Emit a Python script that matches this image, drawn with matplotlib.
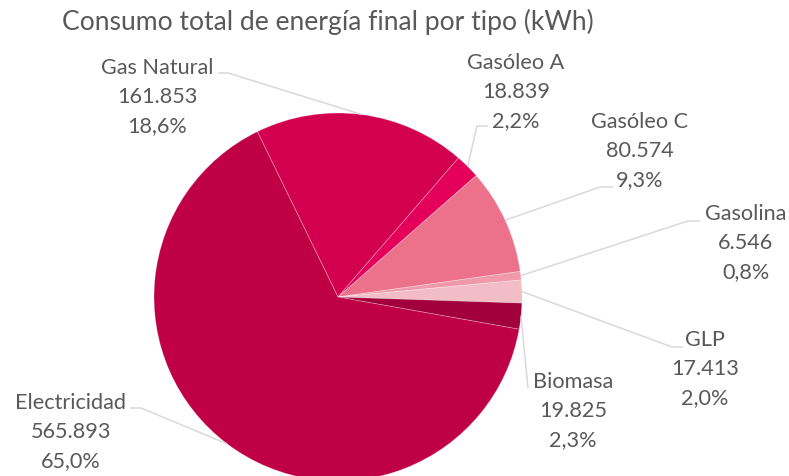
import numpy as np
import matplotlib.pyplot as plt

# datos (kWh)
fuentes = ["Gas Natural", "Gasóleo A", "Gasóleo C", "Gasolina", "GLP", "Biomasa", "Electricidad"]
consumo_kwh = [161853, 18839, 80574, 6546, 17413, 19825, 565893]
colores = ["#D30050", "#E4005A", "#EB728A", "#F099AA", "#F2BDC6", "#A2003C", "#C00045"]

titulo = "Consumo total de energía final por tipo (kWh)"

# posición de etiquetas en píxeles: centro del texto (x, y primera línea), codo y cola de la guía
etiquetas_pos = {
    "Gas Natural": ((157, 68), (228, 73), (218, 73)),
    "Gasóleo A": ((516, 63), (477, 126), (488, 126)),
    "Gasóleo C": ((640, 122), (600, 187), (613, 187)),
    "Gasolina": ((746, 214), (688, 221), (700, 221)),
    "GLP": ((705, 340), (672, 347), (683, 347)),
    "Biomasa": ((573, 382), (528, 388), (528, 388)),
    "Electricidad": ((71, 403), (141, 408), (130, 408)),
}

W, H = 789, 476
GRIS = "#595959"
FUENTE = "Lato"


def miles(v):
    return f"{v:,}".replace(",", ".")


def porcentaje(p):
    return f"{p:.1f}".replace(".", ",") + "%"


fig = plt.figure(figsize=(W / 100, H / 100), dpi=100)
ax = fig.add_axes([0, 0, 1, 1])

cx, cy, r = 338, H - 297, 184
wedges, _ = ax.pie(
    consumo_kwh,
    colors=colores,
    startangle=116,
    counterclock=False,
    center=(cx, cy),
    radius=r,
    frame=True,
    wedgeprops=dict(linewidth=0.6, edgecolor=(1, 1, 1, 0.3)),
)
ax.set_xlim(0, W)
ax.set_ylim(0, H)
ax.set_aspect("equal")
ax.axis("off")

total = sum(consumo_kwh)
for w, nombre, valor in zip(wedges, fuentes, consumo_kwh):
    (tx, ty), codo, cola = etiquetas_pos[nombre]
    ang = np.deg2rad((w.theta1 + w.theta2) / 2)
    borde = (cx + r * np.cos(ang), cy + r * np.sin(ang))
    xs = [borde[0], codo[0], cola[0]]
    ys = [borde[1], H - codo[1], H - cola[1]]
    ax.plot(xs, ys, color="#D9D9D9", lw=1.1, solid_capstyle="butt", zorder=1)

    lineas = [nombre, miles(valor), porcentaje(100 * valor / total)]
    for i, txt in enumerate(lineas):
        ax.text(tx, H - (ty + 29 * i), txt, ha="center", va="center",
                fontsize=15.6, color=GRIS, family=FUENTE)

ax.text(62, H - 22, titulo, ha="left", va="center", fontsize=19.1,
        color=GRIS, family=FUENTE)

fig.savefig("out.png", dpi=100)
